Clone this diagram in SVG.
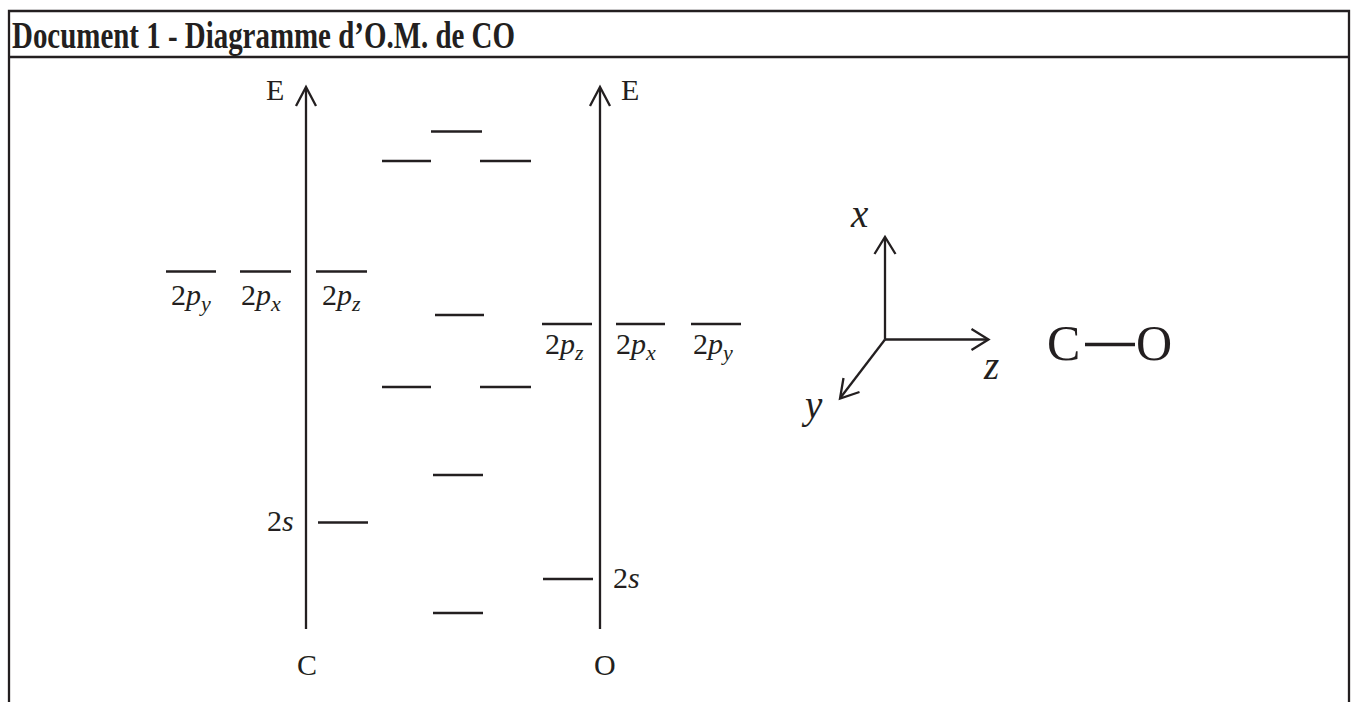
<svg xmlns="http://www.w3.org/2000/svg" width="1353" height="702" viewBox="0 0 1353 702">
<style>
.ln{stroke:#231f20;stroke-width:2.3;fill:none}
.lv{stroke:#231f20;stroke-width:2.5;fill:none}
.t{font-family:"Liberation Serif","Times New Roman",serif;fill:#231f20}
.i{font-style:italic}
.sub{font-style:italic;font-size:22px}
</style>
<rect width="1353" height="702" fill="#fff"/>
<g id="frame">
<polyline class="ln" points="9,702 9,11 1349,11 1349,702"/>
<line class="ln" x1="9" y1="57" x2="1349" y2="57"/>
<text class="t" x="12" y="48" font-size="37" font-weight="bold" textLength="503" lengthAdjust="spacingAndGlyphs">Document 1 - Diagramme d’O.M. de CO</text>
</g>
<g id="connectors">
<line class="ln" x1="306" y1="629" x2="306" y2="88"/>
<polyline class="ln" points="296,106 306,87 316,106"/>
<line class="ln" x1="600" y1="629" x2="600" y2="88"/>
<polyline class="ln" points="590,106 600,87 610,106"/>
</g>
<g id="axis-C-labels">
<text class="t" x="266" y="100" font-size="30">E</text>
<text class="t" x="297" y="675" font-size="30">C</text>
</g>
<g id="axis-O-labels">
<text class="t" x="621" y="100" font-size="30">E</text>
<text class="t" x="594" y="675" font-size="30">O</text>
</g>
<g id="C-2p">
<line class="lv" x1="166" y1="271.5" x2="216" y2="271.5"/>
<line class="lv" x1="240" y1="271.5" x2="291" y2="271.5"/>
<line class="lv" x1="316" y1="271.5" x2="367" y2="271.5"/>
<text class="t" x="171" y="305" font-size="30">2<tspan class="i">p</tspan><tspan class="sub" dy="6">y</tspan></text>
<text class="t" x="241" y="305" font-size="30">2<tspan class="i">p</tspan><tspan class="sub" dy="6">x</tspan></text>
<text class="t" x="322" y="305" font-size="30">2<tspan class="i">p</tspan><tspan class="sub" dy="6">z</tspan></text>
</g>
<g id="C-2s">
<line class="lv" x1="318" y1="522.5" x2="368" y2="522.5"/>
<text class="t" x="267" y="531" font-size="30">2<tspan class="i">s</tspan></text>
</g>
<g id="O-2p">
<line class="lv" x1="542" y1="324" x2="592" y2="324"/>
<line class="lv" x1="616" y1="324" x2="665" y2="324"/>
<line class="lv" x1="691" y1="324" x2="741" y2="324"/>
<text class="t" x="545" y="354" font-size="30">2<tspan class="i">p</tspan><tspan class="sub" dy="6">z</tspan></text>
<text class="t" x="616" y="354" font-size="30">2<tspan class="i">p</tspan><tspan class="sub" dy="6">x</tspan></text>
<text class="t" x="693" y="354" font-size="30">2<tspan class="i">p</tspan><tspan class="sub" dy="6">y</tspan></text>
</g>
<g id="O-2s">
<line class="lv" x1="543" y1="579" x2="593" y2="579"/>
<text class="t" x="613" y="588" font-size="30">2<tspan class="i">s</tspan></text>
</g>
<g id="MO-levels">
<line class="lv" x1="431" y1="131.5" x2="482" y2="131.5"/>
<line class="lv" x1="382" y1="161" x2="431" y2="161"/>
<line class="lv" x1="480" y1="161" x2="531" y2="161"/>
<line class="lv" x1="435" y1="315" x2="484" y2="315"/>
<line class="lv" x1="382" y1="387" x2="431" y2="387"/>
<line class="lv" x1="480" y1="387" x2="531" y2="387"/>
<line class="lv" x1="433" y1="475" x2="483" y2="475"/>
<line class="lv" x1="433" y1="613" x2="483" y2="613"/>
</g>
<g id="axes-xyz">
<line class="ln" x1="885" y1="339.5" x2="885" y2="238"/>
<polyline class="ln" points="874.5,254 885,237 895.5,254"/>
<line class="ln" x1="885" y1="339.5" x2="987" y2="339.5"/>
<polyline class="ln" points="971.5,329 988.5,339.5 971.5,350"/>
<line class="ln" x1="885" y1="339.5" x2="841" y2="397"/>
<polyline class="ln" points="843.5,378 840,398.5 859.5,392"/>
<text class="t i" x="851" y="227" font-size="39">x</text>
<text class="t i" x="984" y="379" font-size="39">z</text>
<text class="t i" x="805" y="418" font-size="39">y</text>
</g>
<g id="CO-molecule">
<text class="t" x="1047" y="360" font-size="50">C</text>
<line x1="1085" y1="344.5" x2="1135" y2="344.5" stroke="#231f20" stroke-width="3.4"/>
<text class="t" x="1136" y="360" font-size="50">O</text>
</g>
</svg>
